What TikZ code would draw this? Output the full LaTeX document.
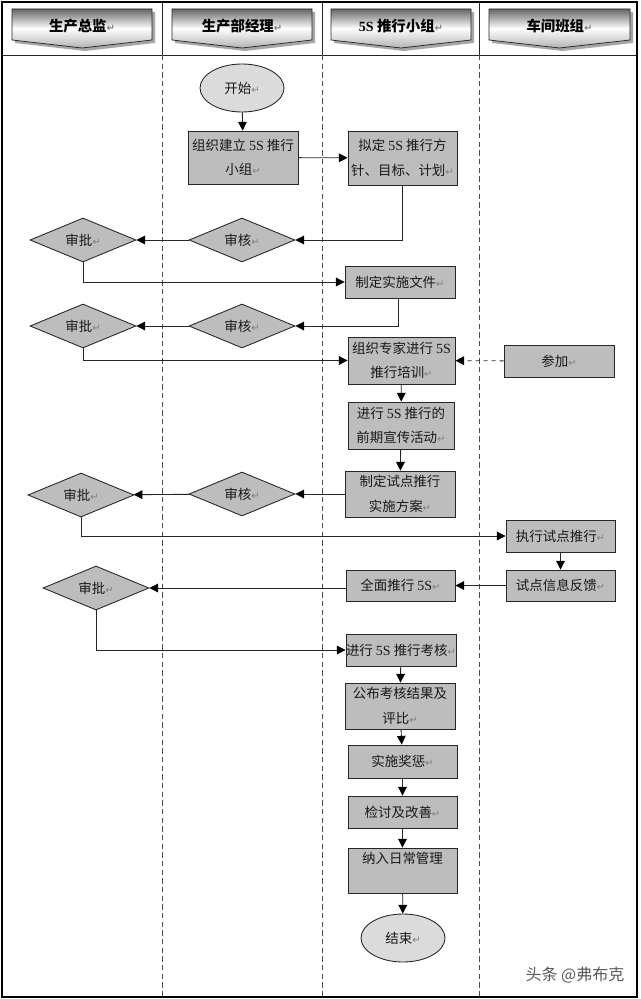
\documentclass[tikz,border=0pt]{standalone}
\usepackage{fontspec}
\setmainfont{Noto Sans CJK SC}
\newfontfamily\latf{Liberation Serif}
\newfontfamily\symf{DejaVu Sans}
\usetikzlibrary{arrows.meta,shapes.geometric,calc}
\definecolor{boxgray}{gray}{0.74}
\definecolor{ovalgray}{gray}{0.86}
\definecolor{linegray}{gray}{0.15}
\newcommand{\Ret}{{\symf\fontsize{7.5pt}{7pt}\selectfont\textcolor{gray}{↵}}}
\newcommand{\Ess}{{\latf\fontsize{10.5pt}{12pt}\selectfont 5S}}
\tikzset{
  x=0.75pt,y=-0.75pt,
  every node/.style={font=\fontsize{10.1pt}{18.5pt}\selectfont,text=black!90},
  boxnode/.style={draw=linegray,fill=boxgray,line width=0.65pt,rectangle,inner sep=0pt,align=center},
  dia/.style={draw=linegray,fill=boxgray,line width=0.65pt,diamond,aspect=2.4,inner sep=0pt,minimum width=79.5pt,minimum height=33pt},
  oval/.style={draw=linegray,fill=ovalgray,line width=0.65pt,ellipse,inner sep=0pt,minimum width=63pt,minimum height=36pt},
  flow/.style={draw=linegray,line width=0.65pt,-{Triangle[length=6.5pt,width=6.5pt,black]}},
  lanesolid/.style={draw=linegray,line width=0.65pt},
  lanedash/.style={draw=black!70,line width=0.75pt,dash pattern=on 4pt off 2.5pt},
  headt/.style={font=\fontsize{10.8pt}{12pt}\selectfont\bfseries,text=black},
}
\newcommand{\Bx}[6]{\node[boxnode,minimum width=#4*0.75pt-#2*0.75pt,minimum height=#5*0.75pt-#3*0.75pt] (#1) at ({(#2+#4)/2},{(#3+#5)/2}) {#6};}
\newcommand{\Hd}[4]{%
  \fill[black!35] (#1+3,12) -- (#2+3,12) -- (#2+3,43) -- ({(#1+#2)/2+3},51) -- (#1+3,43) -- cycle;
  \path[top color=black!60,bottom color=black!30,middle color=white,draw=black!85,line width=0.55pt] (#1,9) -- (#2,9) -- (#2,40) -- ({(#1+#2)/2},48) -- (#1,40) -- cycle;
  \node[headt] (#3) at ({(#1+#2)/2},26) {#4};}
\begin{document}
\begin{tikzpicture}
\useasboundingbox (0,0) rectangle (640,999);
\fill[white] (0,0) rectangle (640,999);
% headers
\Hd{12}{152}{h1}{生产总监\Ret}
\Hd{172}{312}{h2}{生产部经理\Ret}
\Hd{331}{471}{h3}{\Ess{} 推行小组\Ret}
\Hd{489}{630}{h4}{车间班组\Ret}
% lanes
\draw[lanesolid] (2,55) -- (637,55);
\foreach \xx in {162,322,479}{
  \draw[lanesolid] (\xx,3) -- (\xx,55);
  \draw[lanedash] (\xx,55) -- (\xx,997);
}
\draw[black,line width=1.1pt] (2,2) rectangle (637,997);
% nodes
\node[oval] (start) at (242,88) {开始\Ret};
\Bx{b1}{188}{131}{298}{184}{组织建立 \Ess{} 推行\\小组\Ret}
\Bx{b2}{348}{131}{457}{185}{拟定 \Ess{} 推行方\\针、目标、计划\Ret}
\node[dia] (s1) at (83,240) {审批\Ret};
\node[dia] (r1) at (242,240) {审核\Ret};
\Bx{b3}{345}{266}{455}{298}{制定实施文件\Ret}
\node[dia] (s2) at (83,326) {审批\Ret};
\node[dia] (r2) at (242,326) {审核\Ret};
\Bx{b4}{348}{337}{455}{384}{组织专家进行 \Ess\\推行培训\Ret}
\Bx{b5}{504}{345}{614}{377}{参加\Ret}
\Bx{b6}{348}{402}{454}{449}{进行 \Ess{} 推行的\\前期宣传活动\Ret}
\Bx{b7}{345}{471}{455}{517}{制定试点推行\\实施方案\Ret}
\node[dia] (s3) at (81,495) {审批\Ret};
\node[dia] (r3) at (242,494) {审核\Ret};
\Bx{b8}{506}{520}{615}{552}{执行试点推行\Ret}
\Bx{b9}{506}{570}{615}{601}{试点信息反馈\Ret}
\Bx{b10}{346}{570}{455}{601}{全面推行 \Ess\Ret}
\node[dia] (s4) at (96,588) {审批\Ret};
\Bx{b11}{348}{634}{454}{666}{进行 \Ess{} 推行考核\Ret}
\Bx{b12}{345}{683}{455}{729}{公布考核结果及\\评比\Ret}
\Bx{b13}{348}{745}{457}{778}{实施奖惩\Ret}
\Bx{b14}{348}{796}{457}{828}{检讨及改善\Ret}
\Bx{b15}{348}{848}{457}{893}{纳入日常管理\\\mbox{}}
\node[oval] (end) at (403,938) {结束\Ret};
\node[font=\fontsize{12pt}{14pt}\selectfont,text=black!65] (wm) at (575,975) {头条 @弗布克};
% connectors
\draw[flow] (start) -- (b1);
\draw[flow] (b1) -- (b2);
\draw[flow] (b2.south) |- (r1.east);
\draw[flow] (r1) -- (s1);
\draw[flow] (s1.south) |- (b3.west);
\draw[flow] ($(b3.south)+(-1.5pt,0)$) |- (r2.east);
\draw[flow] (r2) -- (s2);
\draw[flow] (s2.south) |- (b4.west);
\draw[flow,dashed] (b5) -- (b4);
\draw[flow] (b4) -- (b6);
\draw[flow] (b6) -- (b7);
\draw[flow] (b7.west |- r3.east) -- (r3.east);
\draw[flow] (r3) -- (s3);
\draw[flow] (s3.south) |- (b8.west);
\draw[flow] (b8) -- (b9);
\draw[flow] (b9) -- (b10);
\draw[flow] (b10.west |- s4.east) -- (s4.east);
\draw[flow] (s4.south) |- (b11.west);
\draw[flow] (b11) -- (b12);
\draw[flow] (b12) -- (b13);
\draw[flow] (b13) -- (b14);
\draw[flow] (b14) -- (b15);
\draw[flow] (b15) -- (end);
\end{tikzpicture}
\end{document}
